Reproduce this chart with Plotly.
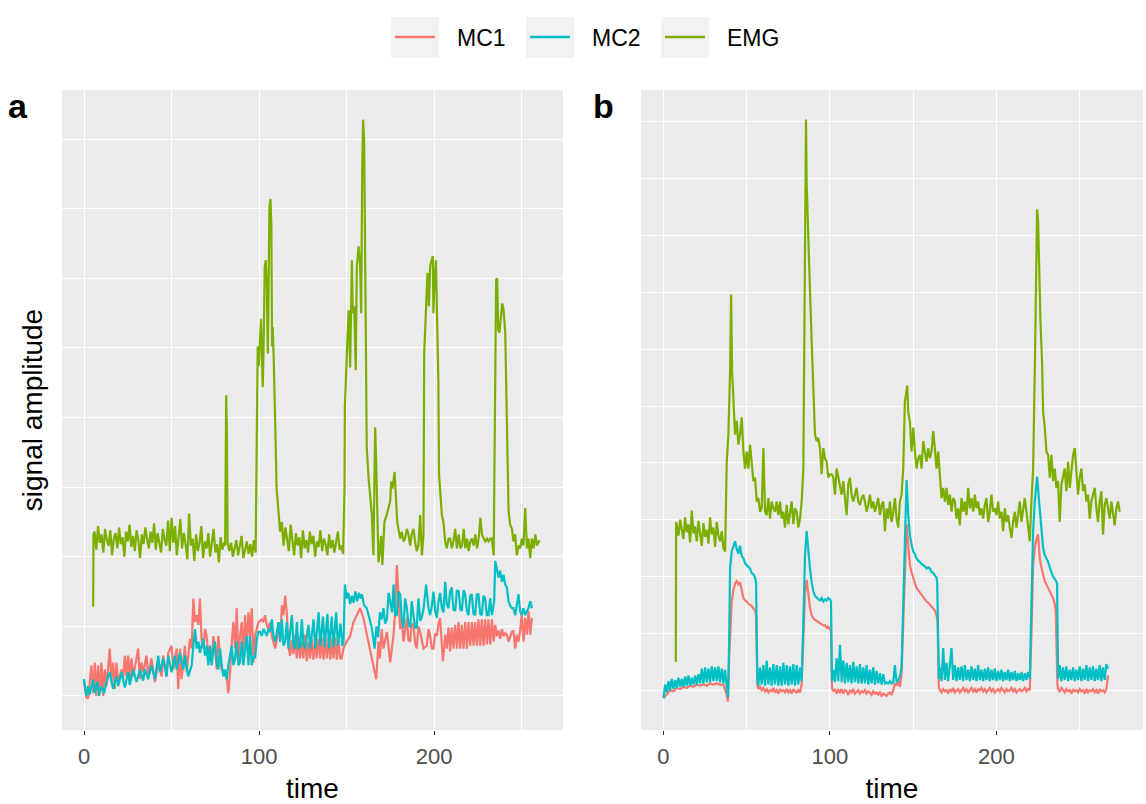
import plotly.graph_objects as go

W, H = 1146, 804

# ---------------- colours / labels ----------------
SERIES = ["MC1", "MC2", "EMG"]
COLORS = {"MC1": "#F8766D", "MC2": "#00BFC4", "EMG": "#7CAE00"}
X_TICKS = [0, 100, 200]
X_TICK_TEXT = ["0", "100", "200"]

# ---------------- panel a data (time, amplitude) ----------------
A_MC1 = [(0.0,10),(1.3,-1),(2.3,-2),(4.2,22),(5.2,2),(6.1,24),(7.0,0),(8.0,22),(9.0,2),(9.9,24),(10.9,0),
 (11.8,19),(12.8,7),(14.7,34),(15.6,10),(16.6,24),(17.6,5),(18.5,24),(19.5,10),(21.4,19),(22.3,12),(23.3,29),
 (24.2,14),(25.2,29),(26.1,12),(27.1,27),(28.1,14),(30.9,34),(31.9,12),(32.8,24),(33.8,17),(35.7,29),(36.6,14),
 (38.5,27),(40.5,10),(42.4,24),(44.3,14),(45.2,29),(47.1,14),(48.1,31),(50.0,36),(51.0,19),(52.9,34),(53.8,5),
 (54.8,34),(55.7,12),(57.6,36),(58.6,17),(60.5,41),(61.5,34),(62.4,70),(63.4,53),(64.3,58),(65.3,51),(66.2,70),
 (67.2,39),(68.1,34),(69.1,48),(70.0,43),(71.0,29),(71.9,36),(72.9,24),(73.9,43),(74.8,34),(75.8,19),(76.7,43),
 (77.7,29),(78.6,19),(80.5,17),(81.5,14),(82.4,2),(83.4,17),(84.4,39),(85.3,53),(86.3,34),(87.2,63),(88.2,24),
 (89.1,43),(90.1,53),(91.0,29),(92.0,58),(92.9,34),(93.9,60),(94.8,43),(95.8,63),(96.8,24),(97.7,43),(98.7,48),
 (99.6,53),(101.5,55),(102.5,53),(103.4,58),(104.4,51),(105.3,48),(106.3,53),(107.3,43),(109.2,34),(110.1,41),
 (111.1,53),(112.0,39),(113.0,65),(113.9,58),(114.9,72),(115.8,60),(116.8,35),(117.7,29),(118.7,40),(119.6,30),
 (120.6,44),(121.5,27),(122.5,43),(123.4,27),(124.4,39),(125.3,27),(126.3,44),(127.2,25),(128.2,39),(129.1,27),
 (130.1,41),(131.0,26),(132.0,39),(132.9,27),(133.9,41),(134.9,27),(135.8,42),(136.8,26),(137.8,41),(138.7,27),
 (139.7,42),(140.6,26),(141.6,41),(142.5,27),(143.5,42),(144.4,26),(145.4,41),(146.3,27),(147.2,27),(148.2,34),
 (150.0,39),(152.0,43),(153.9,53),(155.8,58),(157.7,63),(159.6,56),(161.5,44),(163.4,32),(165.3,22),(166.9,12),
 (168.2,39),(169.0,27),(170.0,48),(171.0,34),(173.0,46),(174.9,24),(176.8,44),(177.7,60),(178.7,94),(179.6,70),
 (180.6,48),(181.5,55),(182.5,39),(184.4,56),(185.3,40),(186.3,39),(187.2,52),(188.2,51),(189.1,38),(190.0,34),
 (191.0,50),(192.0,46),(193.0,38),(193.9,34),(195.8,36),(196.8,48),(197.7,43),(198.7,34),(199.6,34),(200.6,45),
 (201.5,43),(202.5,52),(203.4,56),(205.0,25),(206.3,44),(207.2,34),(208.2,49),(209.1,32),(210.1,49),(211.0,34),
 (212.0,51),(213.0,34),(213.9,53),(214.9,34),(215.8,51),(216.8,34),(217.7,53),(218.7,34),(219.6,53),(220.6,36),
 (221.5,53),(222.5,36),(223.4,53),(224.4,36),(225.3,55),(226.3,36),(227.2,55),(228.2,36),(229.1,55),(230.1,37),
 (231.0,55),(232.0,37),(233.0,55),(234.0,39),(234.9,51),(235.8,43),(236.8,47),(237.7,41),(238.7,48),(239.6,43),
 (240.6,45),(241.5,44),(242.5,39),(243.4,42),(244.4,46),(245.3,47),(246.3,34),(247.2,44),(248.2,39),(249.1,47),
 (250.0,58),(251.0,39),(252.0,56),(253.0,44),(253.9,61),(254.9,44),(255.8,56)]

A_MC2 = [(0.0,12),(1.3,0),(2.3,7),(3.2,1),(5.2,12),(6.1,2),(7.6,10),(8.6,0),(9.9,7),(11.5,2),(12.8,10),(14.7,17),
 (16.6,5),(18.5,14),(19.5,7),(21.4,17),(23.3,6),(25.2,17),(26.1,8),(28.1,19),(30.0,10),(31.9,19),(33.8,11),
 (34.7,19),(36.6,12),(38.5,22),(40.5,12),(42.4,29),(43.3,17),(45.2,27),(47.1,14),(48.1,29),(50.0,17),(51.9,29),
 (52.9,19),(54.8,31),(56.7,19),(57.6,29),(59.5,14),(61.5,22),(62.4,36),(63.4,48),(64.3,34),(65.3,39),(66.2,31),
 (67.2,36),(68.1,41),(69.1,29),(70.0,36),(71.0,22),(71.9,36),(72.9,22),(73.9,34),(74.8,39),(75.8,24),(76.7,19),
 (77.7,34),(78.6,22),(79.6,14),(80.5,19),(81.5,12),(82.4,22),(83.4,29),(84.4,36),(85.3,22),(86.3,27),(87.2,39),
 (88.2,22),(89.1,24),(90.1,39),(91.0,22),(92.9,43),(93.9,22),(94.8,43),(95.8,22),(96.8,29),(97.7,27),(98.7,41),
 (99.6,46),(100.6,46),(101.5,43),(102.5,48),(103.4,46),(104.4,43),(105.3,48),(106.3,46),(107.3,55),(108.2,43),
 (109.2,39),(110.1,46),(111.1,53),(112.0,39),(113.0,55),(113.9,36),(114.9,39),(115.8,53),(116.8,34),(118.7,58),
 (119.7,36),(120.6,34),(121.6,53),(122.5,34),(123.5,36),(124.4,55),(125.4,36),(126.3,34),(128.2,51),(129.2,34),
 (131.1,55),(132.1,34),(134.0,60),(134.9,36),(136.5,57),(137.5,35),(139.0,59),(140.0,34),(141.5,57),(142.5,35),
 (144.0,60),(145.0,36),(146.5,52),(147.5,36),(148.2,38),(149.0,80),(150.0,70),(151.0,74),(152.0,66),(153.0,72),
 (154.0,67),(155.0,75),(156.0,68),(157.0,74),(158.0,70),(158.7,73),(160.0,65),(161.5,63),(163.0,55),(164.4,49),
 (166.0,34),(167.0,50),(168.0,42),(169.0,60),(170.0,55),(171.0,63),(172.0,52),(173.0,55),(174.0,74),(175.0,68),
 (176.0,60),(176.8,80),(177.7,58),(178.7,58),(179.6,75),(180.6,73),(181.5,55),(182.5,49),(183.4,70),(184.4,63),
 (185.3,52),(186.3,49),(187.2,68),(188.2,58),(189.1,49),(190.0,49),(191.0,70),(192.0,54),(193.0,57),(194.0,63),
 (195.4,80),(196.8,63),(197.7,58),(198.7,65),(199.6,75),(200.6,61),(201.5,56),(202.5,68),(203.4,74),(204.4,63),
 (205.3,60),(206.3,82),(207.2,66),(208.2,63),(209.1,75),(210.0,78),(211.0,62),(212.0,61),(213.0,76),(214.0,75),
 (215.0,62),(215.8,61),(216.8,76),(217.7,73),(218.7,61),(219.6,58),(220.6,72),(221.5,73),(222.5,59),(223.4,58),
 (224.4,73),(225.3,73),(226.3,59),(227.2,58),(228.2,72),(229.1,70),(230.1,58),(231.0,58),(232.0,70),(233.0,58),
 (234.3,68),(234.9,97),(235.8,92),(236.8,85),(237.7,90),(238.7,82),(239.6,87),(240.6,80),(241.5,78),(242.5,68),
 (243.4,65),(244.4,63),(245.3,63),(246.3,58),(247.2,65),(248.2,73),(249.1,61),(250.0,58),(251.0,63),(252.0,58),
 (253.0,61),(253.9,63),(254.9,68),(255.8,63)]

A_EMG = [(5.2,64),(5.4,116),(6,118),(7,105),(8,122),(9,110),(10,116),(11,103),(12,120),(13,112),(14,108),(15,119),
 (16,101),(17,113),(18,117),(19,106),(20,121),(21,109),(22,114),(23,100),(24,118),(25,111),(26,123),(27,107),
 (28,115),(29,104),(30,119),(31,112),(32,99),(33,116),(34,109),(35,121),(36,113),(37,106),(38,118),(39,110),
 (40,124),(41,105),(42,117),(43,111),(44,103),(45,120),(46,112),(47,108),(48,126),(49,104),(50,128),(51,110),
 (52,122),(53,101),(54,114),(55,127),(56,106),(57,117),(58,109),(59,98),(60,131),(61,108),(62,113),(63,97),
 (64,116),(65,104),(66,110),(67,122),(68,99),(69,111),(70,106),(71,117),(72,100),(73,112),(74,120),(75,103),
 (76,109),(77,96),(78,114),(79,105),(80,110),(80.6,108),(80.9,171),(81.2,216),(81.6,190),(82.0,110),(83,104),
 (84,110),(85,100),(86,107),(87,112),(88,101),(89,108),(90,115),(91,99),(92,106),(93,111),(94,102),(95,109),
 (96,100),(97,112),(98,103),(98.7,206),(99.2,251),(99.8,237),(100.6,256),(101.1,271),(101.7,239),(102.1,222),
 (102.7,261),(103.2,308),(103.8,313),(104.4,294),(105.0,246),(105.5,308),(105.9,351),(106.5,357),(107.0,337),
 (107.4,251),(107.8,265),(108.4,239),(108.8,206),(109.3,190),(110,149),(111,130),(112,118),(113,125),(114,108),
 (115,121),(116,112),(117,104),(118,123),(119,110),(120,101),(121,117),(122,108),(123,114),(124,99),(125,119),
 (126,106),(127,112),(128,103),(129,118),(130,109),(131,115),(132,100),(133,111),(134,107),(135,119),(136,104),
 (137,113),(138,109),(139,101),(140,116),(141,106),(142,112),(143,103),(144,110),(145,118),(146,105),(147,108),
 (148,102),(148.8,150),(149.0,208),(149.7,239),(150.5,258),(151.2,277),(152.0,236),(153.0,313),(153.5,275),
 (154.3,280),(155.2,234),(155.8,308),(156.8,323),(157.7,310),(158.3,275),(158.9,378),(159.4,414),(160.0,399),
 (160.6,313),(161.1,227),(161.5,178),(162.5,157),(163.4,145),(164.4,130),(165.3,101),(165.7,154),(166.3,193),
 (166.9,166),(167.4,130),(168.2,96),(169.1,106),(169.7,115),(170.4,94),(171.6,125),(172.9,130),(173.9,135),
 (174.9,140),(175.4,154),(176.2,149),(177.4,161),(178.1,147),(178.9,125),(179.6,120),(180.6,113),(181.5,118),
 (182.5,111),(183.4,113),(184.4,120),(185.3,116),(186.3,108),(187.2,116),(188.2,120),(189.1,111),(190.0,104),
 (191.0,108),(192.0,130),(193.0,101),(193.9,116),(194.3,246),(195.4,275),(196.2,304),(197.0,280),(197.7,309),
 (198.5,313),(199.2,316),(199.6,275),(200.2,299),(201.0,313),(201.5,287),(202.0,251),(202.4,226),(202.8,159),
 (203.4,147),(204.4,130),(205.3,125),(206.3,111),(207.2,106),(208.2,113),(209.1,113),(210.1,106),(211.0,111),
 (212.0,120),(213.0,106),(214.0,116),(215.0,106),(215.9,108),(216.9,120),(217.8,106),(218.8,113),(219.7,104),
 (220.7,111),(221.6,113),(222.6,108),(223.5,116),(224.5,106),(225.4,113),(226.4,128),(227.3,116),(228.3,113),
 (229.2,111),(230.2,113),(231.1,111),(232.1,113),(233.0,113),(234.0,101),(234.9,239),(235.4,299),(236.0,300),
 (236.6,263),(237.3,261),(238.1,275),(238.9,282),(239.6,278),(240.6,261),(241.1,227),(241.5,202),(241.9,154),
 (242.5,133),(243.4,123),(244.4,120),(245.3,111),(246.3,116),(247.2,101),(248.2,108),(249.1,106),(250.1,113),
 (251.0,108),(252.0,135),(253.0,106),(253.9,113),(254.9,99),(255.8,113),(256.8,106),(257.8,116),(258.7,108),
 (259.7,111),(260.6,111)]

# ---------------- panel b data (time, amplitude) ----------------
B_MC1 = [(0,-7),(2,-3),(4,0),(6,-1),(8,2),(10,1),(12,3),(14,2),(16,4),(18,3),(20,5),(22,4),(24,5),(26,4),(28,6),
 (30,5),(32,6),(34,5),(36,5),(38,-4),(38.6,-10),(39.5,30),(40.2,60),(41,78),(42,88),(43,94),(44,96),(45,93),
 (46,95),(47,88),(48,81),(49,79),(50,78),(51,76),(52,75),(53,74),(54,72),(55,70),(55.6,66),(56.4,5),(57,1),(58,3),
 (59,0),(60,2),(61,-1),(62,1),(63,-2),(64,0),(65,-1),(66,2),(67,-2),(68,0),(69,-3),(70,1),(71,-1),(72,0),(73,-2),
 (74,1),(75,-2),(76,0),(77,-3),(78,1),(79,-1),(80,-2),(81,0),(82,-2),(83,5),(84,50),(85,85),(86,97),(87,84),
 (88,72),(89,66),(90,63),(91,62),(92,61),(93,60),(94,59),(95,58),(96,57),(97,57),(98,55),(99,56),(100,54),
 (100.6,52),(101.2,2),(102,-1),(103,1),(104,-3),(105,0),(106,-2),(107,1),(108,-3),(109,0),(110,-1),(111,-4),
 (112,0),(113,-2),(114,1),(115,-3),(116,-1),(117,0),(118,-3),(119,-1),(120,-2),(121,0),(122,-3),(123,-1),
 (124,-2),(125,-4),(126,-1),(127,-3),(128,-2),(129,-4),(130,-2),(131,-5),(132,-3),(133,-4),(134,-5),(135,-3),
 (136,-2),(137,-4),(138,0),(139,6),(140,4),(141,8),(142,3),(143,15),(144,60),(145,120),(146,146),(147,128),
 (148,110),(149,104),(150,98),(151,94),(152,90),(153,88),(154,86),(155,84),(156,81),(157,80),(158,78),(159,77),
 (160,75),(161,74),(162,72),(163,70),(164,66),(164.6,60),(165.4,3),(166,0),(167,-2),(168,1),(169,-1),(170,0),
 (171,-3),(172,1),(173,-1),(174,2),(175,-2),(176,0),(177,1),(178,-2),(179,0),(180,2),(181,-1),(182,1),(183,-2),
 (184,0),(185,2),(186,-1),(187,1),(188,-2),(189,1),(190,0),(191,2),(192,-1),(193,1),(194,-2),(195,0),(196,2),
 (197,-1),(198,1),(199,-2),(200,0),(201,1),(202,-1),(203,2),(204,0),(205,-2),(206,1),(207,-1),(208,0),(209,2),
 (210,-1),(211,1),(212,-2),(213,0),(214,1),(215,-1),(216,0),(217,2),(218,-1),(219,1),(220,0),(221,50),(222,110),
 (223,125),(224,133),(225,137),(226,116),(227,108),(228,101),(229,96),(230,93),(231,90),(232,87),(233,84),
 (234,81),(235,76),(235.6,69),(236.6,5),(237,1),(238,-1),(239,2),(240,0),(241,-2),(242,1),(243,-1),(244,0),
 (245,-3),(246,1),(247,-1),(248,0),(249,-2),(250,1),(251,-1),(252,0),(253,-3),(254,1),(255,-2),(256,0),(257,-1),
 (258,1),(259,-2),(260,0),(261,-3),(262,1),(263,-1),(264,0),(265,-2),(266,1),(267,13)]

B_MC2 = [(0,-7),(1,5),(2,-2),(3,8),(4,0),(5,10),(6,1),(7,9),(8,2),(9,11),(10,3),(11,10),(12,3),(13,12),(14,4),
 (15,13),(16,4),(17,11),(18,5),(19,13),(20,5),(21,14),(22,6),(23,19),(24,6),(25,20),(26,7),(27,19),(28,7),(29,21),
 (30,8),(31,20),(32,8),(33,21),(34,7),(35,19),(36,6),(37,18),(38,3),(38.8,-6),(39.4,40),(40,107),(41,122),
 (42,126),(43,131),(44,124),(45,120),(46,127),(47,118),(48,116),(49,112),(50,110),(51,108),(52,107),(53,103),
 (54,102),(55,99),(55.6,95),(56.4,10),(57,4),(58,20),(59,5),(60,22),(61,4),(62,26),(63,5),(64,20),(65,4),(66,23),
 (67,5),(68,22),(69,4),(70,21),(71,4),(72,24),(73,5),(74,22),(75,4),(76,21),(77,5),(78,23),(79,4),(80,22),(81,5),
 (82,20),(83,8),(84,60),(85,118),(86,140),(87,121),(88,107),(89,95),(90,87),(91,83),(92,81),(93,80),(94,79),
 (95,81),(96,78),(97,80),(98,79),(99,81),(100,80),(100.6,78),(101.2,8),(102,18),(103,7),(104,28),(105,8),
 (106,40),(107,7),(108,26),(109,6),(110,24),(111,7),(112,22),(113,6),(114,25),(115,7),(116,21),(117,6),(118,23),
 (119,6),(120,20),(121,6),(122,22),(123,5),(124,18),(125,6),(126,20),(127,5),(128,17),(129,6),(130,15),(131,5),
 (132,14),(133,6),(134,7),(135,6),(136,8),(137,6),(138,7),(139,22),(140,7),(141,9),(142,12),(143,20),(144,78),
 (145,150),(146,185),(147,154),(148,137),(149,128),(150,122),(151,120),(152,116),(153,114),(154,113),(155,111),
 (156,110),(157,109),(158,107),(159,108),(160,107),(161,104),(162,103),(163,101),(164,99),(164.4,95),(165.4,10),
 (166,20),(167,8),(168,37),(169,9),(170,24),(171,8),(172,22),(173,37),(174,9),(175,22),(176,8),(177,20),(178,9),
 (179,21),(180,8),(181,22),(182,9),(183,18),(184,8),(185,21),(186,9),(187,19),(188,8),(189,22),(190,9),(191,18),
 (192,8),(193,19),(194,9),(195,20),(196,8),(197,18),(198,9),(199,19),(200,8),(201,17),(202,9),(203,18),(204,8),
 (205,16),(206,9),(207,18),(208,8),(209,16),(210,9),(211,17),(212,8),(213,15),(214,9),(215,16),(216,8),(217,15),
 (218,9),(219,16),(220,10),(221,78),(222,140),(223,166),(224.4,188),(225.6,166),(227,137),(228,125),(229,119),
 (230,116),(231,113),(232,108),(233,104),(234,100),(235,98),(236.4,94),(237,10),(238,22),(239,8),(240,20),
 (241,9),(242,21),(243,8),(244,18),(245,9),(246,20),(247,8),(248,18),(249,9),(250,21),(251,8),(252,19),(253,9),
 (254,22),(255,8),(256,20),(257,9),(258,21),(259,8),(260,19),(261,9),(262,22),(263,8),(264,20),(265,9),(266,23),
 (267,19)]

B_EMG = [(7.4,25),(7.6,148),(8,145),(9,136),(10,150),(11,141),(12,133),(13,152),(14,139),(15,146),(16,130),
 (17,158),(18,138),(19,144),(20,131),(21,149),(22,140),(23,127),(24,147),(25,135),(26,141),(27,129),(28,152),
 (29,137),(30,143),(31,126),(32,148),(33,136),(34,131),(35,140),(36,125),(37,122),(38,201),(39,225),(40,281),
 (40.6,348),(41.2,281),(42,250),(43,225),(44,237),(45,216),(46,225),(47,240),(48,210),(49,195),(50,210),(51,195),
 (52,216),(53,201),(54,184),(55,187),(56,166),(57,169),(58,157),(59,160),(60,213),(61,157),(62,154),(63,169),
 (64,151),(65,166),(66,160),(67,157),(68,166),(69,154),(70,166),(71,151),(72,157),(73,143),(74,163),(75,146),
 (76,157),(77,166),(78,146),(79,160),(80,157),(81,143),(82,151),(83,166),(84,195),(84.7,300),(85.3,430),
 (85.6,502),(86,446),(87,390),(88,351),(89,307),(90,260),(91,225),(92,219),(93,222),(94,213),(95,190),(96,213),
 (97,204),(98,201),(99,187),(100,190),(101,190),(102,187),(103,172),(104,195),(105,187),(106,178),(107,172),
 (108,184),(109,166),(110,154),(111,181),(112,187),(113,172),(114,166),(115,172),(116,178),(117,166),(118,163),
 (119,169),(120,172),(121,166),(122,157),(123,163),(124,172),(125,160),(126,166),(127,157),(128,163),(129,169),
 (130,154),(131,163),(132,166),(133,140),(134,160),(135,151),(136,166),(137,148),(138,157),(139,169),(140,151),
 (141,143),(142,166),(143,172),(144,195),(145,254),(145.8,262),(146.4,268),(147,245),(148,236),(149,210),
 (150,231),(151,210),(152,195),(153,204),(154,207),(155,195),(156,219),(157,210),(158,201),(159,213),(160,204),
 (161,210),(162,228),(163,213),(164,195),(165,210),(166,184),(167,169),(168,178),(169,166),(170,178),(171,163),
 (172,172),(173,157),(174,169),(175,166),(176,151),(177,160),(178,145),(179,169),(180,157),(181,166),(182,154),
 (183,178),(184,160),(185,169),(186,157),(187,172),(188,160),(189,166),(190,154),(191,160),(192,151),(193,163),
 (194,169),(195,148),(196,157),(197,172),(198,157),(199,160),(200,154),(201,166),(202,151),(203,157),(204,140),
 (205,160),(206,148),(207,154),(208,143),(209,134),(210,148),(211,157),(212,143),(213,154),(214,166),(215,148),
 (216,157),(217,169),(218,157),(219,143),(220,131),(221,166),(222,195),(223,280),(224.4,423),(225,413),
 (225.6,372),(226.4,325),(227.4,287),(228,245),(229,231),(230,210),(231,207),(232,187),(233,207),(234,184),
 (235,195),(236,178),(237,184),(238,148),(239,181),(240,187),(241,195),(242,175),(243,201),(244,178),(245,193),
 (246,207),(247,213),(248,187),(249,172),(250,187),(251,195),(252,175),(253,181),(254,166),(255,172),(256,151),
 (257,166),(258,172),(259,178),(260,160),(261,148),(262,166),(263,175),(264,137),(265,163),(266,169),(267,160),
 (268,151),(269,166),(270,157),(271,145),(272,160),(273,166),(274,157)]

PANEL_A = {"MC1": A_MC1, "MC2": A_MC2, "EMG": A_EMG}
PANEL_B = {"MC1": B_MC1, "MC2": B_MC2, "EMG": B_EMG}

# ---------------- figure ----------------
FONT = "Liberation Sans, Arial, Helvetica, sans-serif"
fig = go.Figure()

for panel, xa, ya in ((PANEL_A, "x", "y"), (PANEL_B, "x2", "y2")):
    for name in SERIES:
        pts = panel[name]
        fig.add_trace(go.Scatter(
            x=[p[0] for p in pts], y=[p[1] for p in pts], mode="lines", name=name,
            line=dict(color=COLORS[name], width=2.2), xaxis=xa, yaxis=ya,
            showlegend=False, hoverinfo="skip"))

def px_x(v):
    return v / W

def px_y(v):
    return 1 - v / H

top, bottom = 90, 730
grid = dict(showgrid=True, gridcolor="white", gridwidth=1.1, zeroline=False, showline=False)

xcommon = dict(tickmode="array", tickvals=X_TICKS, ticktext=X_TICK_TEXT, ticks="outside", ticklen=4,
               tickwidth=1.1, tickcolor="#333333", tickfont=dict(size=22, color="#4D4D4D", family=FONT),
               ticklabelstandoff=3,
               minor=dict(tickmode="array", tickvals=[50, 150, 250], showgrid=True, gridcolor="white",
                          gridwidth=0.55, ticks=""),
               title=dict(text="time", font=dict(size=28, color="black", family=FONT), standoff=10),
               **grid)

fig.update_layout(
    width=W, height=H, autosize=False,
    margin=dict(l=0, r=0, t=0, b=0),
    paper_bgcolor="white", plot_bgcolor="#EBEBEB",
    font=dict(family=FONT),
    showlegend=False,
    xaxis=dict(domain=[px_x(62), px_x(563)], range=[-12.6, 273.6], anchor="y", **xcommon),
    xaxis2=dict(domain=[px_x(641), px_x(1143)], range=[-13.5, 288], anchor="y2", **xcommon),
    yaxis=dict(domain=[px_y(bottom), px_y(top)], range=[-24.5, 435.3], anchor="x",
               tickmode="array", tickvals=[0, 100, 200, 300, 400], showticklabels=False, ticks="",
               minor=dict(tickmode="array", tickvals=[50, 150, 250, 350], showgrid=True,
                          gridcolor="white", gridwidth=0.55, ticks=""),
               title=dict(text="signal amplitude", font=dict(size=28, color="black", family=FONT), standoff=10),
               **grid),
    yaxis2=dict(domain=[px_y(bottom), px_y(top)], range=[-35, 528], anchor="x2",
                tickmode="array", tickvals=[0, 100, 200, 300, 400, 500], showticklabels=False, ticks="",
                minor=dict(tickmode="array", tickvals=[50, 150, 250, 350, 450], showgrid=True,
                           gridcolor="white", gridwidth=0.55, ticks=""),
                **grid),
)

# panel tags
for tag, xpx in (("a", 18), ("b", 603)):
    fig.add_annotation(text=f"<b>{tag}</b>", x=px_x(xpx), y=px_y(106), xref="paper", yref="paper",
                       showarrow=False, xanchor="center", yanchor="middle",
                       font=dict(size=34, color="black", family=FONT))

# legend (top, boxed keys as in ggplot)
LEG_BOX_X = [391, 526, 661]
for name, bx in zip(SERIES, LEG_BOX_X):
    fig.add_shape(type="rect", xref="paper", yref="paper", x0=px_x(bx), x1=px_x(bx + 48),
                  y0=px_y(58), y1=px_y(17), fillcolor="#F2F2F2", line=dict(width=0), layer="below")
    fig.add_shape(type="line", xref="paper", yref="paper", x0=px_x(bx + 4), x1=px_x(bx + 44),
                  y0=px_y(37), y1=px_y(37), line=dict(color=COLORS[name], width=2.4))
    fig.add_annotation(text=name, x=px_x(bx + 64), y=px_y(38), xref="paper", yref="paper",
                       showarrow=False, xanchor="left", yanchor="middle",
                       font=dict(size=23, color="black", family=FONT))

fig.write_html("out.html", config={"displayModeBar": False},
               post_script="document.body.style.margin='0px';")
